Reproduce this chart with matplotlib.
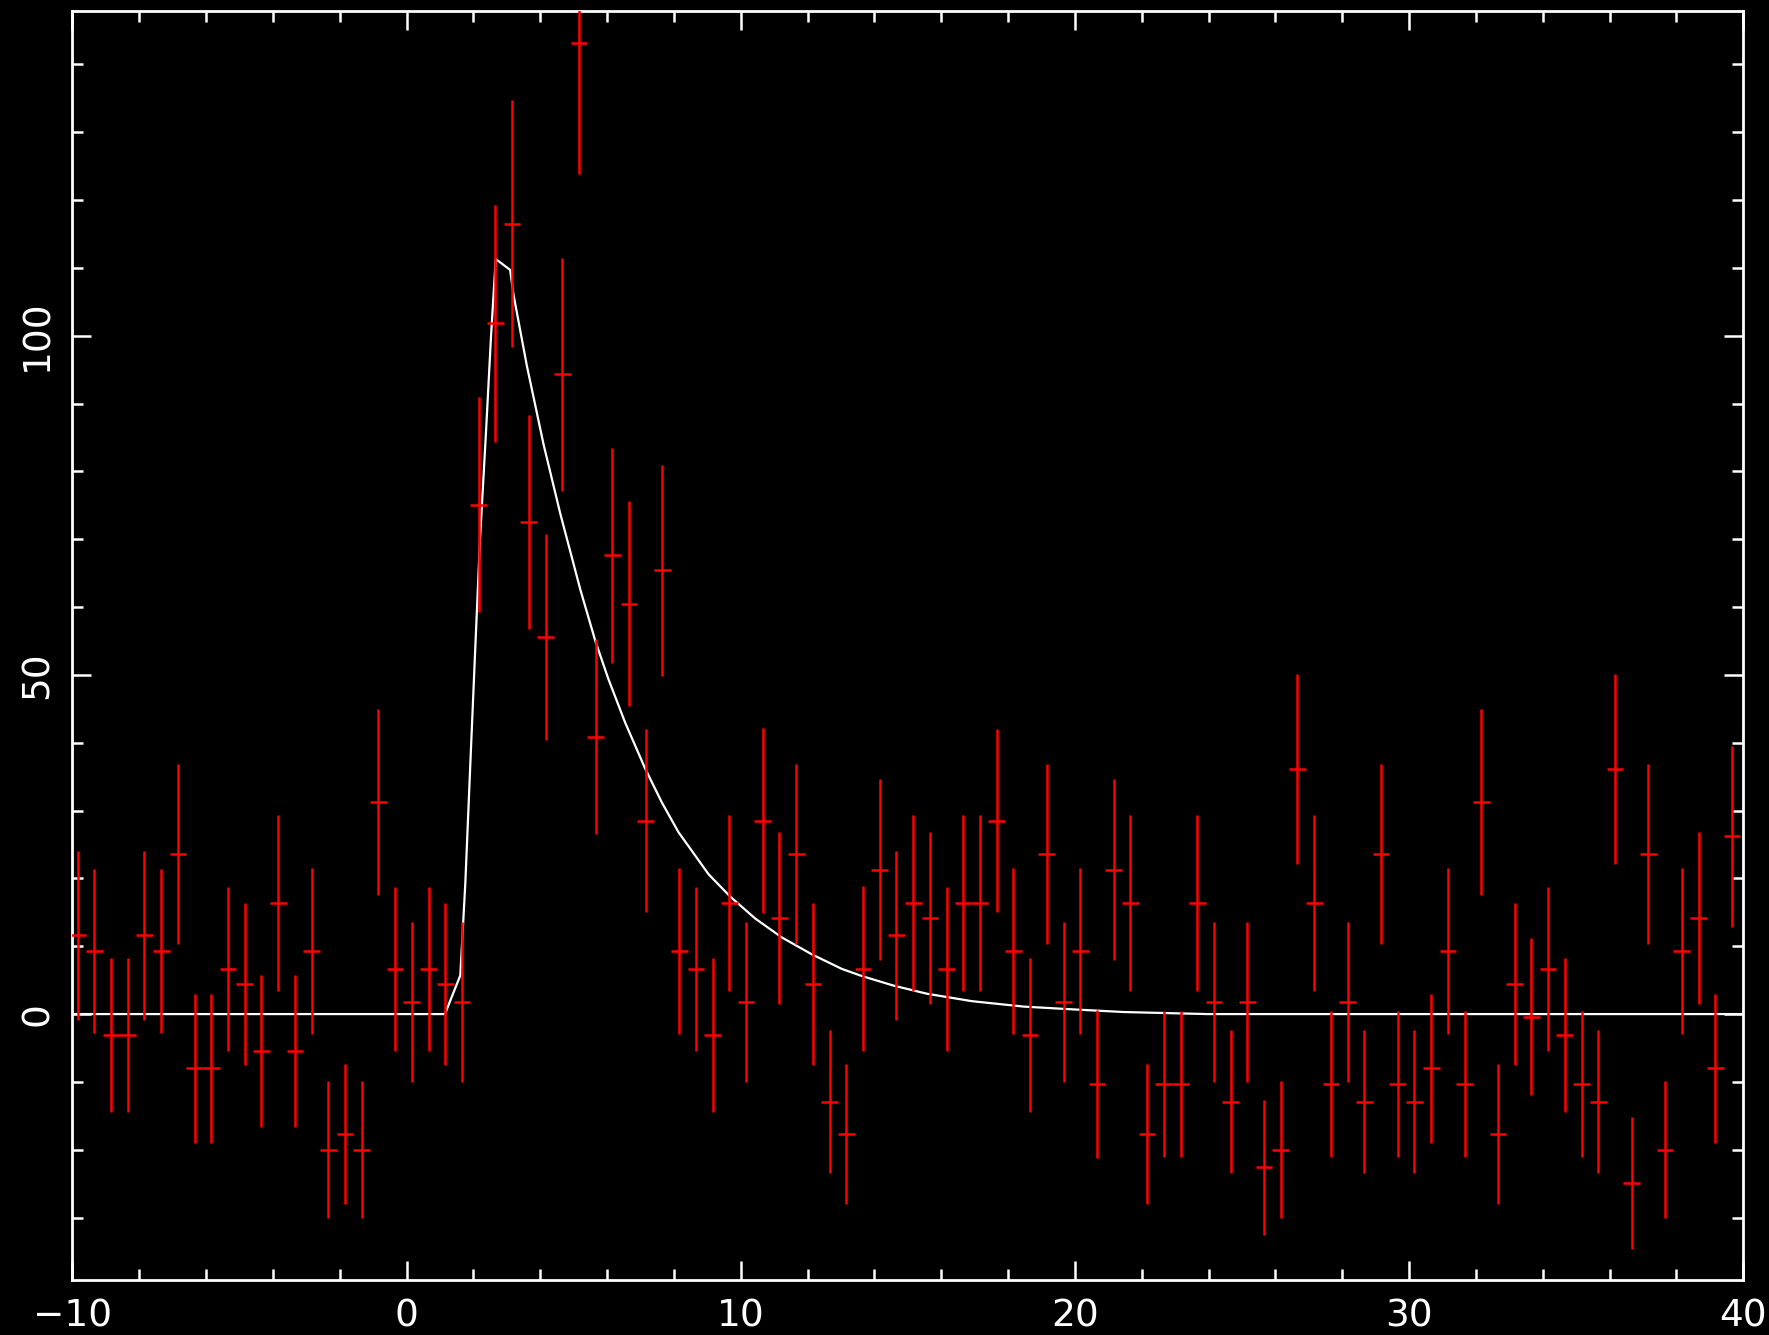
import numpy as np
import matplotlib
matplotlib.use("Agg")
import matplotlib.pyplot as plt
from matplotlib.ticker import MultipleLocator

# ---- data -------------------------------------------------------------
bin_start = -9.84          # centre of first time bin (s)
bin_width = 0.5            # bin width (s)

rate = [11.6, 9.3, -3.1, -3.1, 11.6, 9.3, 23.6, -8.0, -8.0, 6.7,
        4.4, -5.4, 16.4, -5.4, 9.3, -20.0, -17.7, -20.0, 31.2, 6.7,
        1.8, 6.7, 4.4, 1.8, 75.1, 101.8, 116.5, 72.5, 55.6, 94.3,
        143.1, 40.9, 67.6, 60.5, 28.5, 65.4, 9.3, 6.7, -3.1, 16.4,
        1.8, 28.5, 14.2, 23.6, 4.4, -12.9, -17.7, 6.7, 21.3, 11.6,
        16.4, 14.2, 6.7, 16.4, 16.4, 28.5, 9.3, -3.1, 23.6, 1.8,
        9.3, -10.3, 21.3, 16.4, -17.7, -10.3, -10.3, 16.4, 1.8, -12.9,
        1.8, -22.6, -20.0, 36.1, 16.4, -10.3, 1.8, -12.9, 23.6, -10.3,
        -12.9, -8.0, 9.3, -10.3, 31.2, -17.7, 4.4, -0.4, 6.7, -3.1,
        -10.3, -12.9, 36.1, -24.9, 23.6, -20.0, 9.3, 14.2, -8.0, 26.2]

rate_err = [12.5, 12.1, 11.4, 11.4, 12.5, 12.1, 13.2, 11.0, 11.0, 12.1,
            11.9, 11.2, 13.0, 11.2, 12.3, 10.1, 10.3, 10.1, 13.7, 12.1,
            11.8, 12.1, 11.9, 11.8, 15.9, 17.4, 18.2, 15.8, 15.2, 17.2,
            19.3, 14.4, 15.9, 15.1, 13.5, 15.5, 12.3, 12.1, 11.4, 13.0,
            11.8, 13.6, 12.7, 13.2, 11.9, 10.6, 10.3, 12.2, 13.3, 12.5,
            13.0, 12.7, 12.1, 13.0, 13.0, 13.5, 12.3, 11.4, 13.2, 11.8,
            12.3, 10.9, 13.3, 13.0, 10.3, 10.7, 10.7, 13.0, 11.8, 10.6,
            11.8, 9.9, 10.1, 14.0, 13.0, 10.7, 11.8, 10.6, 13.2, 10.7,
            10.6, 11.0, 12.3, 10.7, 13.7, 10.3, 11.9, 11.6, 12.1, 11.4,
            10.7, 10.6, 14.0, 9.7, 13.2, 10.1, 12.3, 12.7, 11.0, 13.3]

# pulse model
model_t = [-10.0, 1.15, 1.61, 1.76, 1.91, 2.06, 2.20, 2.37, 2.53, 2.67,
           3.10, 3.20, 3.60, 4.10, 4.60, 5.20, 5.65, 6.04, 6.54, 7.14,
           7.64, 8.14, 9.04, 9.69, 10.43, 11.23, 12.13, 13.03, 13.63, 14.57,
           15.57, 16.92, 18.47, 19.91, 21.46, 23.95, 40.0]
model_y = [0.0, 0.0, 5.7, 19.3, 36.9, 54.2, 70.0, 85.0, 100.0, 111.3,
           109.7, 106.1, 95.6, 84.0, 73.8, 62.6, 55.0, 49.4, 43.0, 36.2,
           31.2, 26.8, 20.6, 17.3, 14.1, 11.3, 8.8, 6.65, 5.6, 4.2,
           3.0, 1.9, 1.1, 0.7, 0.3, 0.0, 0.0]

x_ticks = [-10, 0, 10, 20, 30, 40]
y_ticks = [0, 50, 100]

# ---- figure -------------------------------------------------------------
W, H = 1769, 1335
fig = plt.figure(figsize=(W / 100, H / 100), dpi=100, facecolor="black")
ax = fig.add_axes([72.3 / W, 1 - 1280 / H, (1743.3 - 72.3) / W, (1280 - 11.4) / H])
ax.set_facecolor("black")

t = bin_start + bin_width * np.arange(len(rate))

ax.plot(model_t, model_y, color="white", lw=1.6, zorder=2)
ax.errorbar(t, rate, xerr=bin_width / 2, yerr=rate_err, fmt="none",
            ecolor="#ff0000", elinewidth=1.8, capsize=0, zorder=3)

ax.set_xlim(-10, 40)
ax.set_ylim(-39.2, 147.8)

ax.set_xticks(x_ticks)
ax.set_xticklabels([str(v).replace("-", "\u2212") for v in x_ticks])
ax.set_yticks(y_ticks)
ax.set_yticklabels([str(v) for v in y_ticks], rotation=90, va="center")
ax.xaxis.set_minor_locator(MultipleLocator(2))
ax.yaxis.set_minor_locator(MultipleLocator(10))

for s in ax.spines.values():
    s.set_color("white")
    s.set_linewidth(2.0)

ax.tick_params(which="both", direction="in", top=True, right=True,
               color="white", width=1.8)
ax.tick_params(which="major", length=13.7)
ax.tick_params(which="minor", length=8.0)
ax.tick_params(axis="x", which="major", labelsize=27, labelcolor="white", pad=13.0)
ax.tick_params(axis="y", which="major", labelsize=27, labelcolor="white", pad=12.0)

fig.savefig("out.png", dpi=100, facecolor="black")
